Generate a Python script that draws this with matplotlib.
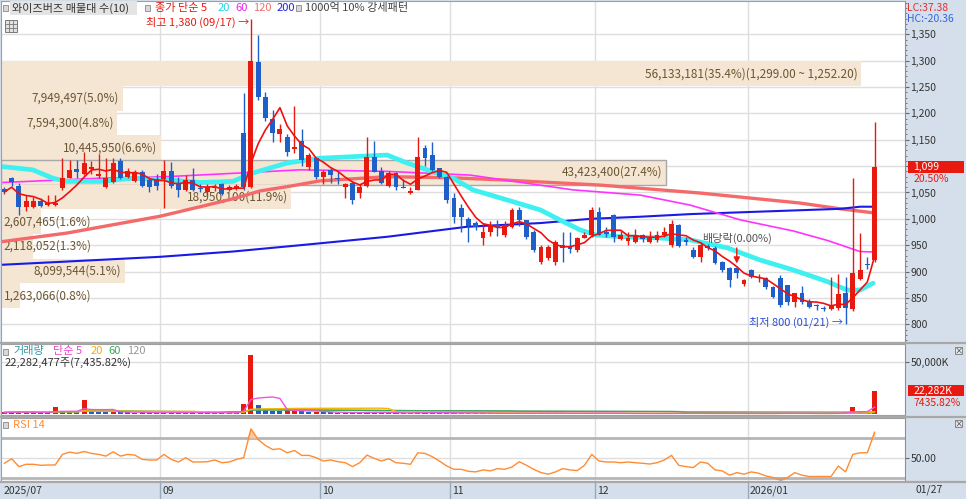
import numpy as np
import pandas as pd
import matplotlib
matplotlib.use('Agg')
import matplotlib.pyplot as plt
from matplotlib.patches import Rectangle
from matplotlib.ticker import FuncFormatter, MultipleLocator

plt.rcParams['font.family'] = ['Noto Sans CJK KR', 'DejaVu Sans']

# 일봉 (2025/07 말 ~ 2026/01/27) - 그림에서 읽은 값
opens = [1057, 1077, 1063, 1023, 1023, 1034, 1026, 1027, 1058, 1078,
         1094, 1086, 1094, 1081, 1061, 1070, 1110, 1080, 1072, 1088,
         1074, 1075, 1076, 1091, 1066, 1055, 1074, 1059, 1050, 1058,
         1066, 1055, 1058, 1163, 1060, 1298, 1231, 1189, 1161, 1155,
         1133, 1147, 1098, 1116, 1080, 1092, 1078, 1061, 1068, 1049,
         1062, 1117, 1091, 1062, 1087, 1061, 1049, 1055, 1134, 1121,
         1096, 1080, 1040, 1020, 999, 992, 964, 975, 988, 969,
         985, 1016, 997, 975, 919, 926, 919, 950, 947, 941,
         964, 969, 1013, 975, 1007, 961, 958, 956, 969, 956,
         959, 969, 950, 988, 960, 941, 928, 948, 945, 918,
         907, 907, 876, 903, 887, 888, 871, 888, 875, 842,
         860, 844, 836, 831, 829, 831, 859, 829, 886, 914,
         922]
highs = [1061, 1080, 1068, 1045, 1042, 1040, 1045, 1045, 1115, 1112,
         1112, 1127, 1110, 1123, 1115, 1115, 1115, 1096, 1092, 1092,
         1080, 1085, 1112, 1108, 1080, 1083, 1096, 1066, 1066, 1066,
         1068, 1064, 1066, 1239, 1380, 1349, 1241, 1207, 1180, 1160,
         1214, 1170, 1125, 1118, 1092, 1098, 1090, 1068, 1070, 1066,
         1155, 1148, 1098, 1090, 1088, 1075, 1060, 1155, 1140, 1146,
         1097, 1082, 1049, 1028, 1003, 996, 992, 995, 998, 995,
         1020, 1022, 998, 978, 950, 950, 960, 975, 975, 966,
         975, 1022, 1022, 985, 1009, 977, 975, 980, 971, 977,
         977, 985, 997, 990, 965, 946, 955, 952, 948, 920,
         909, 910, 886, 905, 895, 890, 872, 893, 875, 860,
         873, 848, 839, 834, 890, 895, 889, 1077, 973, 928,
         1183]
lows = [1048, 1062, 1007, 1014, 1020, 1022, 1024, 1025, 1054, 1077,
        1077, 1083, 1085, 1078, 1058, 1068, 1076, 1078, 1070, 1060,
        1051, 1055, 1020, 1058, 1042, 1052, 1052, 1050, 1045, 1052,
        1045, 1053, 1055, 1055, 1058, 1225, 1185, 1145, 1145, 1120,
        1125, 1100, 1092, 1075, 1066, 1068, 1066, 1040, 1028, 1040,
        1061, 1088, 1066, 1060, 1054, 1058, 1047, 1054, 1100, 1091,
        1078, 1030, 992, 975, 956, 978, 950, 968, 967, 965,
        983, 986, 962, 938, 915, 922, 912, 918, 935, 938,
        963, 966, 969, 965, 956, 959, 950, 955, 956, 955,
        957, 965, 946, 946, 950, 925, 918, 940, 915, 900,
        871, 887, 873, 888, 880, 866, 850, 833, 836, 833,
        838, 830, 828, 826, 828, 828, 800, 825, 884, 905,
        918]
closes = [1051, 1069, 1023, 1034, 1034, 1025, 1031, 1031, 1078, 1093,
          1089, 1105, 1098, 1085, 1077, 1105, 1078, 1091, 1088, 1063,
          1061, 1063, 1091, 1063, 1055, 1074, 1055, 1057, 1060, 1061,
          1048, 1060, 1062, 1060, 1299, 1232, 1191, 1162, 1170, 1127,
          1136, 1111, 1121, 1080, 1089, 1084, 1076, 1066, 1035, 1061,
          1117, 1089, 1068, 1087, 1061, 1059, 1053, 1117, 1116, 1093,
          1080, 1035, 1004, 1004, 987, 984, 975, 988, 984, 988,
          1017, 997, 966, 941, 947, 947, 956, 944, 942, 964,
          969, 1016, 969, 972, 966, 969, 964, 969, 961, 963,
          969, 975, 991, 949, 956, 928, 950, 945, 917, 903,
          884, 897, 884, 890, 889, 871, 852, 836, 842, 860,
          842, 833, 834, 829, 837, 857, 831, 897, 903, 912,
          1099]
# 거래량 (천주)
volumes = [1500, 1800, 2200, 1600, 1400, 1300, 1200, 6300, 2400, 1800, 1500,
           13100, 2500, 2000, 1800, 2200, 1900, 1500, 1400, 1600, 1300, 1200,
           1800, 1500, 1300, 1200, 1400, 1000, 1300, 1100, 1200, 1000, 1100,
           9400, 56300, 8400, 4000, 3000, 2500, 3800, 3800, 2500, 2000, 2200,
           1800, 1500, 1300, 1200, 1600, 1300, 2000, 1500, 1200, 1100, 1000,
           900, 900, 1800, 1500, 1200, 1000, 1100, 1300, 1000, 900, 800,
           800, 700, 700, 600, 900, 800, 700, 900, 800, 700, 900,
           700, 600, 700, 600, 1200, 900, 600, 700, 500, 500, 500,
           500, 500, 500, 500, 800, 700, 500, 600, 600, 500, 600,
           600, 700, 600, 500, 500, 500, 600, 600, 900, 700, 600,
           600, 500, 500, 500, 700, 900, 1500, 6300, 1500, 1000, 22282]
rsi14 = [44.4, 49.0, 41.1, 43.4, 43.4, 42.4, 42.7, 42.7, 53.3, 55.6,
         54.3, 56.2, 54.3, 53.3, 51.6, 55.9, 51.6, 53.3, 52.6, 48.3,
         47.7, 47.7, 53.3, 48.3, 45.7, 50.0, 45.7, 45.7, 46.0, 47.7,
         45.0, 45.7, 48.3, 50.0, 78.7, 68.1, 62.2, 58.2, 58.9, 54.9,
         57.2, 52.3, 52.3, 50.0, 46.7, 47.7, 46.0, 45.0, 41.1, 45.0,
         52.6, 49.3, 46.7, 49.0, 45.0, 44.4, 43.4, 54.9, 54.3, 51.0,
         46.7, 41.7, 38.4, 38.4, 36.4, 35.8, 37.8, 36.8, 39.1, 38.4,
         40.7, 46.0, 42.4, 38.4, 35.1, 33.5, 35.8, 39.1, 37.8, 37.1,
         42.4, 53.3, 46.7, 45.7, 45.7, 45.0, 45.7, 45.0, 44.4, 43.7,
         45.0, 47.7, 52.3, 42.4, 41.1, 40.1, 45.7, 44.4, 37.8, 36.8,
         32.5, 35.1, 33.5, 35.8, 34.5, 31.8, 30.2, 27.9, 30.2, 35.1,
         32.5, 31.2, 31.2, 31.2, 31.2, 41.7, 35.8, 53.3, 54.9, 54.9,
         75.4]

# 이동평균선 (그림에서 읽은 점: 봉 위치, 가격)
ma20_x = [-0.2, 3.9, 6.7, 8.6, 13.2, 17.7, 22.4, 27.0, 31.5, 34.3, 39.0, 43.5, 48.1,
          52.8, 55.5, 58.3, 61.9, 64.6, 69.3, 73.9, 76.6, 79.4, 81.7, 85.3, 90.0,
          94.6, 99.7, 104.2, 108.8, 113.5, 116.2, 118.0, 119.8]
ma20_v = [1099, 1093, 1077, 1071, 1071, 1077, 1074, 1069, 1071, 1087, 1106, 1115, 1118,
          1121, 1106, 1093, 1077, 1055, 1036, 1017, 998, 979, 969, 966, 964,
          960, 945, 922, 903, 881, 865, 865, 878]
ma60_x = [-0.2, 13.2, 22.4, 32.5, 40.8, 52.8, 64.2, 78.4, 87.7, 94.6, 101.5, 108.8, 113.5, 118.0, 120.1]
ma60_v = [1069, 1077, 1080, 1087, 1093, 1090, 1083, 1055, 1045, 1026, 998, 977, 959, 938, 937]
ma120_x = [-0.2, 8.6, 21.5, 27.0, 31.5, 35.3, 39.4, 43.5, 52.8, 61.5, 68.4, 82.2, 95.9, 109.7, 115.3, 120.1]
ma120_v = [957, 973, 1005, 1023, 1038, 1053, 1062, 1072, 1080, 1078, 1074, 1064, 1049, 1030, 1019, 1011]
ma200_x = [-0.2, 8.6, 21.5, 31.5, 40.8, 52.8, 63.8, 73.9, 80.8, 87.7, 94.6, 102.8, 115.3, 118.0, 120.1]
ma200_v = [913, 919, 928, 938, 950, 966, 985, 992, 1000, 1004, 1009, 1013, 1019, 1023, 1023]

# 매물대 10개
band_lo = [1252.2, 1205.4, 1158.6, 1111.8, 1065.0, 1018.2, 971.4, 924.6, 877.8, 831.0]
band_hi = [1299.0, 1252.2, 1205.4, 1158.6, 1111.8, 1065.0, 1018.2, 971.4, 924.6, 877.8]
band_vol = [56133181, 7949497, 7594300, 10445950, 43423400, 18950100, 2607465, 2118052, 8099544, 1263066]
band_pct = [35.4, 5.0, 4.8, 6.6, 27.4, 11.9, 1.6, 1.3, 5.1, 0.8]

month_pos = [21.5, 43.5, 61.5, 81.5, 102.5]
month_lbl = ['09', '10', '11', '12', '2026/01']

RED = '#e8190f'
BLUE = '#1f5fc9'
GRID = '#dedede'
BG = '#d5dfec'
W, H = 966, 499

fig = plt.figure(figsize=(W / 100, H / 100), dpi=100, facecolor=BG)


def rect(top, bottom):
    return [1 / W, 1 - bottom / H, 904 / W, (bottom - top) / H]


def ftext(x, y, s, **kw):
    fig.text(x / W, 1 - y / H, s, va='center', **kw)


def fbox(x, y, w, h, fc, ec='none', lw=0.6):
    fig.add_artist(Rectangle((x / W, 1 - (y + h) / H), w / W, h / H, transform=fig.transFigure,
                             facecolor=fc, edgecolor=ec, lw=lw))


ax = fig.add_axes(rect(1, 342))
axv = fig.add_axes(rect(344, 415), sharex=ax)
axr = fig.add_axes(rect(418, 481), sharex=ax)
axd = fig.add_axes(rect(482, 499), sharex=ax)

x = np.arange(len(closes))
o = np.array(opens)
c = np.array(closes)
hi = np.array(highs)
lo = np.array(lows)
XL = (-0.47, 124.2)

for a in (ax, axv, axr):
    a.set_facecolor('white')
    for m in month_pos:
        a.axvline(m, color=GRID, lw=1, zorder=0)
    for s in a.spines.values():
        s.set_color('#a0a0a0')
    a.spines['right'].set_color('#8090a8')
    a.yaxis.tick_right()
    a.tick_params(axis='x', bottom=False, labelbottom=False)
    a.tick_params(axis='y', which='major', length=3, width=0.8, color='#666',
                  labelsize=7.5, labelcolor='#333', pad=1)

# ---- 가격 패널
ax.set_xlim(*XL)
ax.set_ylim(766.4, 1413.2)
ax.set_yticks(range(800, 1351, 50))
# 현재가 박스에 가려지는 눈금 글자는 비움
ax.yaxis.set_major_formatter(FuncFormatter(
    lambda v, _: '' if abs(v - closes[-1]) < 15 else f'{v:,.0f}'))
ax.yaxis.set_minor_locator(MultipleLocator(10))
ax.tick_params(axis='y', which='minor', length=1.5, width=0.6, color='#666')
for p in range(800, 1351, 50):
    ax.axhline(p, color=GRID, lw=1, zorder=0)

# 매물대
full_w = 118.6
bw = np.array(band_vol) / max(band_vol) * full_w
for k, (b0, b1, w, v, pct) in enumerate(zip(band_lo, band_hi, bw, band_vol, band_pct)):
    edge = '#a8a8a8' if b0 <= closes[-1] < b1 else 'none'
    ax.add_patch(Rectangle((XL[0], b0), w, b1 - b0, facecolor='#f5e6d4', edgecolor=edge,
                           lw=1, zorder=0.5))
    lab = f'{v:,}({pct:.1f}%)'
    if v == max(band_vol):
        lab += f'({b1:,.2f} ~ {b0:,.2f})'
    ym = (b0 + b1) / 2
    if w * 7.25 > 100:
        ax.text(XL[0] + w - 0.5, ym, lab, ha='right', va='center', fontsize=8.5,
                color='#6b5632', zorder=1)
    else:
        ax.text(XL[0] + 0.4, ym, lab, ha='left', va='center', fontsize=8.5,
                color='#6b5632', zorder=1)

ax.plot(ma120_x, ma120_v, color='#f46a6a', lw=2.4, zorder=2)
ax.plot(ma200_x, ma200_v, color='#1a1ae6', lw=1.5, zorder=2.1)
ax.plot(ma60_x, ma60_v, color='#ff33ff', lw=1.2, zorder=2.2)
ax.plot(ma20_x, ma20_v, color='#3ef0f0', lw=3.4, zorder=2.3, solid_capstyle='round')

col = np.where(c >= o, RED, BLUE)
ax.vlines(x, lo, hi, colors=col, lw=1, zorder=3)
ax.bar(x, np.maximum(np.abs(c - o), 1.8), 0.68, bottom=np.minimum(o, c), color=col,
       linewidth=0, zorder=3.5)
ma5 = pd.Series(closes).rolling(5, min_periods=1).mean()
ax.plot(x, ma5, color='#f01010', lw=1.2, zorder=4)

imax = int(np.argmax(hi))
imin = int(np.argmin(lo))
ax.text(imax - 0.3, hi[imax] - 8, '최고 1,380 (09/17) →', color=RED, ha='right', va='center',
        fontsize=8, zorder=5)
ax.text(imin - 0.4, lo[imin] + 3, '최저 800 (01/21) →', color='#2a4fd8', ha='right', va='center',
        fontsize=8, zorder=5)
ax.text(101, 962, '배당락(0.00%)', color='#555555', ha='center', va='center', fontsize=8, zorder=5)
ax.annotate('', xy=(101, 910), xytext=(101, 950),
            arrowprops=dict(arrowstyle='-|>', color=RED, lw=1, mutation_scale=9), zorder=5)

# 현재가 표시
ty = ax.get_yaxis_transform()
ax.add_patch(Rectangle((1.003, closes[-1] - 11.4), 0.062, 22.8, transform=ty, clip_on=False,
                       facecolor=RED, edgecolor='none', zorder=6))
ax.text(1.009, closes[-1], f'{closes[-1]:,}', transform=ty, color='white', fontsize=7.5,
        va='center', ha='left', zorder=7)
chg = (closes[-1] / closes[-2] - 1) * 100
ax.text(1.009, closes[-1] - 24, f'{chg:.2f}%', transform=ty, color=RED, fontsize=7.5,
        va='center', ha='left')

# ---- 거래량 패널
axv.set_ylim(-950, 66900)
axv.set_yticks([50000])
axv.yaxis.set_major_formatter(FuncFormatter(lambda v, _: f'{v:,.0f}K'))
axv.axhline(50000, color=GRID, lw=1, zorder=0)
vol = np.array(volumes)
vcol = [RED if k == 0 or vol[k] >= vol[k - 1] else BLUE for k in range(len(vol))]
axv.bar(x, vol, 0.7, color=vcol, linewidth=0, zorder=2)
vs = pd.Series(volumes)
for n, cl in ((120, '#a0a0a0'), (60, '#3aa860'), (20, '#f2b800'), (5, '#ee55dd')):
    axv.plot(x, vs.rolling(n, min_periods=1).mean(), color=cl, lw=1, zorder=3)
tv = axv.get_yaxis_transform()
axv.add_patch(Rectangle((1.003, volumes[-1] - 5500), 0.062, 11000, transform=tv, clip_on=False,
                        facecolor=RED, edgecolor='none', zorder=6))
axv.text(1.009, volumes[-1], '22,282K', transform=tv, color='white', fontsize=7.5, va='center', zorder=7)
axv.text(1.009, volumes[-1] - 12000, '7435.82%', transform=tv, color=RED, fontsize=7.5, va='center')

# ---- RSI 패널
axr.set_ylim(26.7, 89.7)
axr.set_yticks([50])
axr.yaxis.set_major_formatter(FuncFormatter(lambda v, _: f'{v:.2f}'))
axr.axhline(50, color=GRID, lw=1, zorder=0)
axr.axhline(70, color='#b5b5b5', lw=2, zorder=1)
axr.axhline(30, color='#b5b5b5', lw=2, zorder=1)
r = np.array(rsi14)
axr.fill_between(x, r, 70, where=r > 70, interpolate=True, color='#ffc89a', zorder=1.5)
axr.fill_between(x, r, 30, where=r < 30, interpolate=True, color='#9fb2c4', zorder=1.5)
axr.plot(x, r, color='#ff8c33', lw=1, zorder=2)

# ---- 날짜 축
axd.set_facecolor(BG)
axd.set_ylim(0, 1)
axd.set_xticks([])
axd.set_yticks([])
for s in axd.spines.values():
    s.set_visible(False)
for m, t in zip(month_pos, month_lbl):
    axd.axvline(m, color='#9aa8bb', lw=1)
    axd.text(m + 0.25, 0.5, t, fontsize=7.5, color='#333', va='center', ha='left')
axd.text(XL[0] + 0.3, 0.5, '2025/07', fontsize=7.5, color='#333', va='center', ha='left')
ftext(915, 490, '01/27', fontsize=7.5, color='#333')

# 구분선
for yy in (343, 416.5, 481.5):
    fig.add_artist(plt.Line2D([0, 1], [1 - yy / H] * 2, color='#a8a8a8', lw=1.6,
                              transform=fig.transFigure))

# ---- 범례
fbox(10, 1, 127, 14, '#e4e4e4')
for xx in (3, 145, 296):
    fbox(xx, 5, 5, 6, '#d8d8d8', '#888888')
ftext(12, 8, '와이즈버즈 매물대 수(10)', fontsize=8, color='#333')
ftext(155, 8, '종가 단순 5', fontsize=8, color=RED)
ftext(218, 8, '20', fontsize=8, color='#22d6e6')
ftext(235, 8, '60', fontsize=8, color='#ee22ee')
ftext(253, 8, '120', fontsize=8, color='#f07070')
ftext(277, 8, '200', fontsize=8, color='#2222dd')
ftext(305, 8, '1000억 10% 강세패턴', fontsize=8, color='#444')
fbox(5, 20, 12, 12, '#e2e2e2', '#666666')
for k in (1, 2):
    fig.add_artist(plt.Line2D([(5 + 4 * k) / W] * 2, [1 - 21 / H, 1 - 31 / H], color='#777', lw=0.6,
                              transform=fig.transFigure))
    fig.add_artist(plt.Line2D([6 / W, 16 / W], [1 - (20 + 4 * k) / H] * 2, color='#777', lw=0.6,
                              transform=fig.transFigure))

fbox(3, 349, 5, 6, '#d8d8d8', '#888888')
ftext(13, 351, '거래량', fontsize=8, color='#3399aa')
ftext(53, 351, '단순 5', fontsize=8, color='#ee44cc')
ftext(91, 351, '20', fontsize=8, color='#f0b000')
ftext(108, 351, '60', fontsize=8, color='#33aa55')
ftext(127, 351, '120', fontsize=8, color='#999999')
ftext(5, 363, '22,282,477주(7,435.82%)', fontsize=8, color='#333')

fbox(3, 422, 5, 6, '#d8d8d8', '#888888')
ftext(13, 425, 'RSI 14', fontsize=8, color='#ff8c33')

ftext(907, 8, 'LC:37.38', fontsize=7.5, color='#e03030')
ftext(907, 19, 'HC:-20.36', fontsize=7.5, color='#3366dd')
for yy in (347, 420):
    fbox(955, yy, 7, 7, '#e8e8e8', '#777777')
    ftext(958.5, yy + 3.5, '×', fontsize=6, color='#333', ha='center')

fig.savefig('out.png', dpi=100, facecolor=fig.get_facecolor())
